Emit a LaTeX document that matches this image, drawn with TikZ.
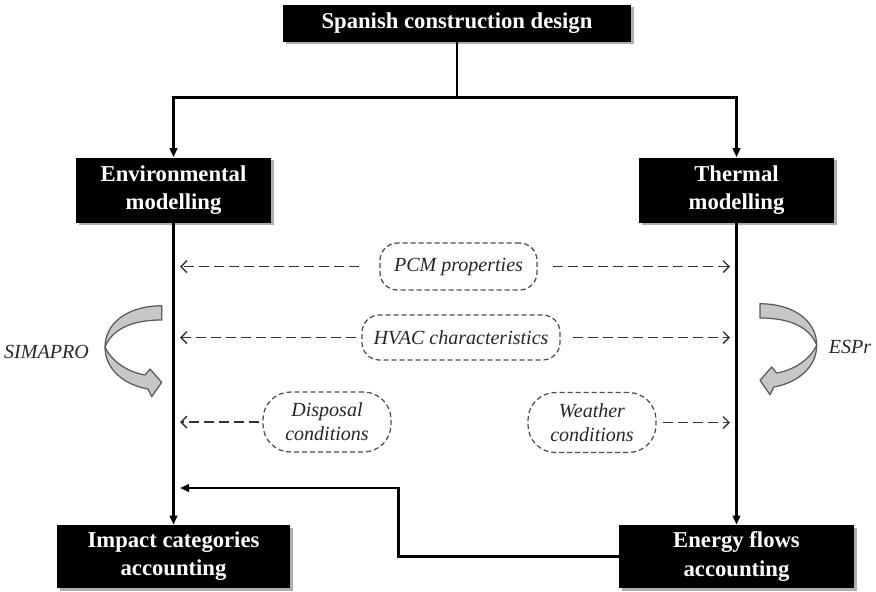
\documentclass[tikz,border=0pt]{standalone}
\usepackage{fontspec}
\setmainfont{Liberation Serif}
\usetikzlibrary{arrows.meta,shadows}
\tikzset{
  blackbox/.style={fill=black,text=white,font=\fontsize{12.9}{16}\selectfont\bfseries,align=center,inner sep=0pt,
    drop shadow={shadow xshift=0.05cm,shadow yshift=-0.05cm,fill=black!45,opacity=0.7}},
  dashbox/.style={draw=black!70,dash pattern=on 0.1cm off 0.06cm,rounded corners=0.35cm,line width=0.7pt,
    font=\fontsize{11.4}{13.7}\selectfont\itshape,align=center,inner sep=0pt,text=black!85},
  flow/.style={line width=1.4pt,->},
  hint/.style={draw=black!80,line width=0.8pt,dash pattern=on 0.2cm off 0.1cm,
    -{Straight Barb[length=0.12cm,width=0.24cm]},shorten >=0.13cm},
  ribbon/.style={fill=black!22,draw=black!65,line width=0.7pt,line join=round},
  tool/.style={font=\fontsize{11.4}{13.7}\selectfont\itshape,text=black!85}
}
\begin{document}
\begin{tikzpicture}[>={Triangle[length=0.18cm,width=0.15cm]}]
    \useasboundingbox (0,0) rectangle (17.52,-11.82);
    \node[blackbox,minimum width=6.96cm,minimum height=0.74cm] (design) at (9.14,-0.46) {Spanish construction design};
    \node[blackbox,minimum width=3.9cm,minimum height=1.3cm] (env) at (3.47,-3.8) {Environmental\\modelling};
    \node[blackbox,minimum width=3.9cm,minimum height=1.3cm] (therm) at (14.73,-3.8) {Thermal\\modelling};
    \node[blackbox,minimum width=4.66cm,minimum height=1.26cm] (impact) at (3.47,-11.13) {Impact categories\\accounting};
    \node[blackbox,minimum width=4.7cm,minimum height=1.26cm] (energy) at (14.73,-11.13) {Energy flows\\accounting};
    \node[dashbox,minimum width=3.14cm,minimum height=0.94cm] (pcm) at (9.17,-5.33) {PCM properties};
    \node[dashbox,minimum width=3.96cm,minimum height=0.9cm] (hvac) at (9.22,-6.75) {HVAC characteristics};
    \node[dashbox,minimum width=2.56cm,minimum height=1.2cm,rounded corners=0.55cm] (disposal) at (6.54,-8.44) {Disposal\\conditions};
    \node[dashbox,minimum width=2.56cm,minimum height=1.2cm,rounded corners=0.55cm] (weather) at (11.84,-8.45) {Weather\\conditions};
    \node[tool] (simapro) at (0.93,-7.04) {SIMAPRO};
    \node[tool] (espr) at (17.0,-6.94) {ESPr};
    \coordinate (split) at (9.14,-1.95);
    \coordinate (back) at (3.6,-9.76);
    \draw[line width=1.4pt] (design) -- (split);
    \draw[flow] (split) -| (env);
    \draw[flow] (split) -| (therm);
    \draw[flow] (env) -- (impact);
    \draw[flow] (therm) -- (energy);
    \draw[flow] (energy.west) -- ++(-4.4,0) |- (back);
    \draw[hint,shorten <=0.4cm] (pcm) -- (pcm -| env);
    \draw[hint,shorten <=0.3cm] (pcm) -- (pcm -| therm);
    \draw[hint,shorten <=0.1cm] (hvac) -- (hvac -| env);
    \draw[hint,shorten <=0.24cm] (hvac) -- (hvac -| therm);
    \draw[hint,shorten <=0.06cm] (disposal) -- (disposal -| env);
    \draw[hint,shorten <=0.12cm] (weather) -- (weather -| therm);
    \path[ribbon] (3.234,-6.114) .. controls (2.5,-6.12) and (2.1,-6.5) .. (2.1,-6.94)
        .. controls (2.1,-7.4) and (2.5,-7.7) .. (2.96,-7.78)
        -- (3.034,-7.934) -- (3.234,-7.646) -- (3.0,-7.38) -- (2.9,-7.5)
        .. controls (2.56,-7.44) and (2.24,-7.24) .. (2.1,-6.94)
        .. controls (2.24,-6.6) and (2.6,-6.4) .. (3.234,-6.4) -- cycle;
    \begin{scope}[xshift=18.434cm,xscale=-1,yshift=0.04cm]
    \path[ribbon] (3.234,-6.114) .. controls (2.5,-6.12) and (2.1,-6.5) .. (2.1,-6.94)
        .. controls (2.1,-7.4) and (2.5,-7.7) .. (2.96,-7.78)
        -- (3.034,-7.934) -- (3.234,-7.646) -- (3.0,-7.38) -- (2.9,-7.5)
        .. controls (2.56,-7.44) and (2.24,-7.24) .. (2.1,-6.94)
        .. controls (2.24,-6.6) and (2.6,-6.4) .. (3.234,-6.4) -- cycle;
    \end{scope}
\end{tikzpicture}
\end{document}
